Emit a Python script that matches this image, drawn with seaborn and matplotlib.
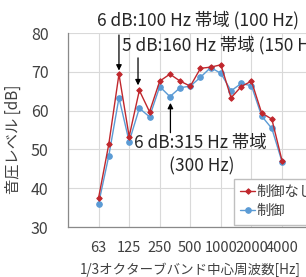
import numpy as np
import pandas as pd
import seaborn as sns
import matplotlib.pyplot as plt

# 1/3 octave bands on the category axis (first/last ones hold no data)
axis_bands = ["31.5", "40", "50", "63", "80", "100", "125", "160", "200", "250",
              "315", "400", "500", "630", "800", "1000", "1250", "1600", "2000",
              "2500", "3150", "4000", "5000", "6300", "8000"]
tick_labels = ["63", "125", "250", "500", "1000", "2000", "4000"]

data_bands = ["63", "80", "100", "125", "160", "200", "250", "315", "400", "500",
              "630", "800", "1000", "1250", "1600", "2000", "2500", "3150", "4000"]
no_control = [37.5, 51.3, 69.4, 53.3, 65.2, 59.7, 67.6, 69.4, 67.6, 66.3,
              70.9, 71.2, 71.8, 63.3, 66.2, 67.6, 59.4, 57.8, 47.1]
control = [36.0, 48.3, 63.3, 52.0, 60.6, 58.4, 66.2, 63.6, 65.9, 66.3,
           68.6, 71.1, 69.6, 65.1, 67.0, 66.4, 58.6, 55.4, 46.8]

sns.set_style("white")
plt.rcParams['font.family'] = ['Noto Sans CJK JP', 'DejaVu Sans']

pos = [axis_bands.index(b) for b in data_bands]
df = pd.DataFrame({
    "pos": pos * 2,
    "level": no_control + control,
    "series": ["制御なし"] * len(pos) + ["制御"] * len(pos),
})

fig = plt.figure(figsize=(3.06, 2.77), dpi=100)
ax = fig.add_axes([68 / 306, 50 / 277, 244.6 / 306, 194 / 277])

red = "#C0272D"
blue = "#5B9BD5"
sns.lineplot(data=df[df.series == "制御なし"], x="pos", y="level", ax=ax,
             color=red, lw=1.0, marker="D", markersize=2.8, mec=red,
             label="制御なし", zorder=4)
sns.lineplot(data=df[df.series == "制御"], x="pos", y="level", ax=ax,
             color=blue, lw=1.0, marker="o", markersize=4, mec=blue,
             label="制御", zorder=3)

ax.set_xlim(0, len(axis_bands) - 1)
ax.set_ylim(30, 80)
ax.set_yticks(np.arange(30, 81, 10))
ticks = list(range(0, len(axis_bands), 3))
ax.set_xticks(ticks)
ax.set_xticklabels([axis_bands[t] if axis_bands[t] in tick_labels else "" for t in ticks])
ax.grid(True, color="#D9D9D9", lw=0.8)
ax.set_axisbelow(True)
for s in ["top", "right"]:
    ax.spines[s].set_visible(False)
for s in ["left", "bottom"]:
    ax.spines[s].set_color("#898989")
    ax.spines[s].set_linewidth(0.9)
ax.tick_params(axis="x", direction="out", length=4, color="#898989",
               labelsize=10.5, pad=6, labelcolor="#404040")
ax.tick_params(axis="y", direction="out", length=5, color="#898989",
               labelsize=11.5, pad=9, labelcolor="#404040")

ax.set_xlabel("1/3オクターブバンド中心周波数[Hz]", fontsize=9.7, color="#404040")
ax.xaxis.set_label_coords(0.499, -0.185)
ax.set_ylabel("音圧レベル [dB]", fontsize=11, color="#404040")
ax.yaxis.set_label_coords(-0.19, 0.454)

arrow = dict(arrowstyle="-|>", color="black", lw=0.9, mutation_scale=8)
ax.annotate("", xy=(5, 69.6), xytext=(5, 80.2), arrowprops=arrow, annotation_clip=False)
ax.annotate("", xy=(6.87, 65.8), xytext=(6.87, 74.3), arrowprops=arrow, annotation_clip=False)
ax.annotate("", xy=(10.05, 62.7), xytext=(10.05, 53.6), arrowprops=arrow, annotation_clip=False)

ax.text(2.85, 83.4, "6 dB:100 Hz 帯域 (100 Hz)", fontsize=12.5, ha="left", va="center",
        color="#262626", clip_on=False)
ax.text(5.3, 76.9, "5 dB:160 Hz 帯域 (150 Hz)", fontsize=12.5, ha="left", va="center",
        color="#262626", clip_on=False)
ax.text(13.0, 51.7, "6 dB:315 Hz 帯域", fontsize=12.5, ha="center", va="center",
        color="#262626", zorder=5)
ax.text(13.15, 45.5, "(300 Hz)", fontsize=12.5, ha="center", va="center",
        color="#262626", zorder=5)

leg = ax.legend(loc="upper left", bbox_to_anchor=(234 / 306, 1 - 179 / 277),
                bbox_transform=fig.transFigure, frameon=True, fancybox=False,
                edgecolor="#BFBFBF", framealpha=1, fontsize=10.3, handlelength=1.0,
                handletextpad=0.15, borderpad=0.45, labelspacing=0.35, borderaxespad=0)
for t in leg.get_texts():
    t.set_color("#404040")

fig.savefig("out.png", dpi=100)
